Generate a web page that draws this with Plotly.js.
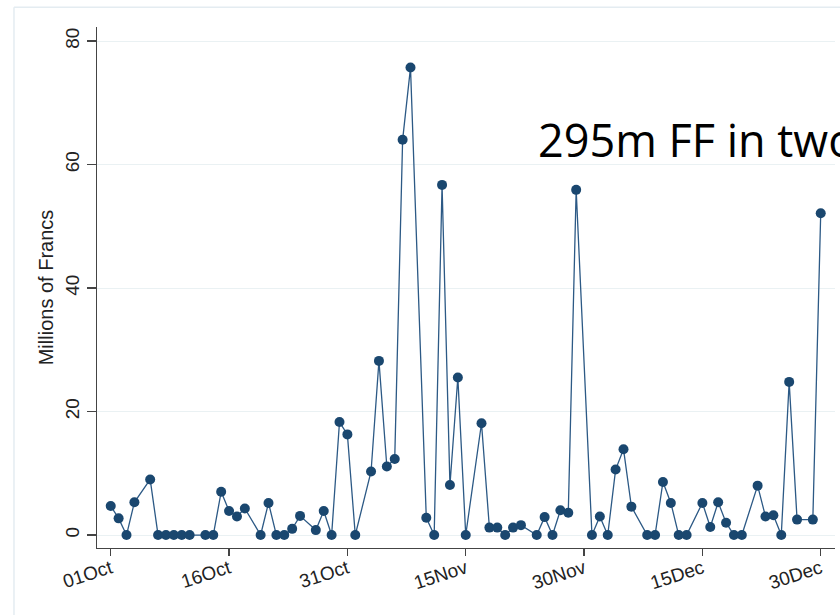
<!DOCTYPE html>
<html>
<head>
<meta charset="utf-8">
<script src="https://cdn.plot.ly/plotly-3.0.1.min.js"></script>
<style>html,body{margin:0;padding:0;background:#fff;}#chart{width:840px;height:615px;}</style>
</head>
<body>
<div id="chart"></div>
<script>
const dates = [
 '1997-10-01','1997-10-02','1997-10-03','1997-10-04','1997-10-06','1997-10-07','1997-10-08','1997-10-09','1997-10-10','1997-10-11',
 '1997-10-13','1997-10-14','1997-10-15','1997-10-16','1997-10-17','1997-10-18','1997-10-20','1997-10-21','1997-10-22','1997-10-23',
 '1997-10-24','1997-10-25','1997-10-27','1997-10-28','1997-10-29','1997-10-30','1997-10-31','1997-11-01','1997-11-03','1997-11-04',
 '1997-11-05','1997-11-06','1997-11-07','1997-11-08','1997-11-10','1997-11-11','1997-11-12','1997-11-13','1997-11-14','1997-11-15',
 '1997-11-17','1997-11-18','1997-11-19','1997-11-20','1997-11-21','1997-11-22','1997-11-24','1997-11-25','1997-11-26','1997-11-27',
 '1997-11-28','1997-11-29','1997-12-01','1997-12-02','1997-12-03','1997-12-04','1997-12-05','1997-12-06','1997-12-08','1997-12-09',
 '1997-12-10','1997-12-11','1997-12-12','1997-12-13','1997-12-15','1997-12-16','1997-12-17','1997-12-18','1997-12-19','1997-12-20',
 '1997-12-22','1997-12-23','1997-12-24','1997-12-25','1997-12-26','1997-12-27','1997-12-29','1997-12-30'
];
const millions = [
 4.7, 2.7, 0, 5.3, 9.0, 0, 0, 0, 0, 0,
 0, 0, 7.0, 3.9, 3.0, 4.3, 0, 5.2, 0, 0,
 1.0, 3.1, 0.8, 3.9, 0, 18.3, 16.3, 0, 10.3, 28.2,
 11.1, 12.3, 64.0, 75.7, 2.8, 0, 56.7, 8.1, 25.5, 0,
 18.1, 1.2, 1.2, 0, 1.2, 1.6, 0, 2.9, 0, 4.0,
 3.6, 55.9, 0, 3.0, 0, 10.6, 13.9, 4.6, 0, 0,
 8.6, 5.2, 0, 0, 5.2, 1.3, 5.3, 2.0, 0, 0,
 8.0, 3.0, 3.2, 0, 24.8, 2.5, 2.5, 52.1
];
const xTickDates = ['1997-10-01','1997-10-16','1997-10-31','1997-11-15','1997-11-30','1997-12-15','1997-12-30'];
const xTickLabels = ['01Oct','16Oct','31Oct','15Nov','30Nov','15Dec','30Dec'];
const yTicks = [0, 20, 40, 60, 80];
const yTickLabels = ['0', '20', '40', '60', '80'];
const noteText = '295m FF in two';

const navy = '#1a476f';
const tickFont = {family: 'Liberation Sans, Arial, sans-serif', size: 19, color: '#222'};
const titleFont = {family: 'Liberation Sans, Arial, sans-serif', size: 20, color: '#222'};

const trace = {
  x: dates, y: millions, type: 'scatter', mode: 'lines+markers',
  line: {color: '#2c5985', width: 1.3},
  marker: {color: navy, size: 10, symbol: 'circle'},
  hoverinfo: 'skip'
};

const layout = {
  width: 840, height: 615,
  margin: {l: 97, r: 5, t: 27, b: 67},
  paper_bgcolor: '#fff', plot_bgcolor: '#fff',
  showlegend: false,
  xaxis: {
    type: 'date',
    range: ['1997-09-29 06:14', '1997-12-31 19:26'],
    tickmode: 'array', tickvals: xTickDates, ticktext: xTickLabels,
    tickangle: -18, ticks: 'outside', ticklen: 7, tickwidth: 1.2, tickcolor: '#444',
    ticklabelstandoff: -6,
    showline: true, linecolor: '#444', linewidth: 1.2,
    showgrid: false, zeroline: false,
    tickfont: tickFont
  },
  yaxis: {
    range: [-2.1, 82.27],
    tickmode: 'array', tickvals: yTicks, ticktext: yTickLabels,
    tickangle: -90, ticks: 'outside', ticklen: 9, tickwidth: 1.2, tickcolor: '#444',
    showline: true, linecolor: '#444', linewidth: 1.2,
    showgrid: true, gridcolor: '#eaf1f3', gridwidth: 1,
    zeroline: false,
    tickfont: tickFont,
    title: {text: 'Millions of Francs', font: titleFont, standoff: 3}
  },
  shapes: [
    {type: 'line', xref: 'paper', yref: 'paper', x0: -0.1125, x1: -0.1125, y0: -0.2, y1: 1.038, line: {color: '#e4ecf1', width: 1.5}},
    {type: 'line', xref: 'paper', yref: 'paper', x0: -0.1125, x1: 1.1, y0: 1.038, y1: 1.038, line: {color: '#e4ecf1', width: 1.5}}
  ],
  annotations: [{
    text: noteText, xref: 'paper', yref: 'paper', x: 0.596, y: 0.784,
    xanchor: 'left', yanchor: 'middle', showarrow: false, borderpad: 0,
    font: {family: 'Open Sans, Noto Sans, sans-serif', size: 45, color: '#000'}
  }]
};

Plotly.newPlot('chart', [trace], layout, {staticPlot: true, displayModeBar: false});
</script>
</body>
</html>
